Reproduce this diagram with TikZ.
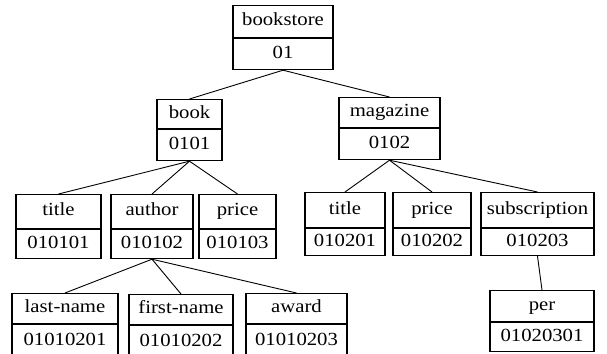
\documentclass[tikz,border=0pt]{standalone}
\usepackage{fontspec}
\setmainfont{Liberation Serif}[FakeStretch=1.12]
\begin{document}
\begin{tikzpicture}[x=1pt,y=-1pt,
  cell/.style={draw, line width=1.1pt, rectangle, inner sep=0pt, anchor=north,
    font=\fontsize{18.5}{20}\selectfont, text height=12pt, text depth=3.5pt},
  link/.style={line width=0.9pt}]
\useasboundingbox (0,0) rectangle (607,353);
\clip (0,0) rectangle (607,353);

% root
\node[cell, minimum width=100, minimum height=32] (bookstore) at (283,5) {bookstore};
\node[cell, minimum width=100, minimum height=31] (bookstore-id) at (bookstore.south) {01};

% second level
\node[cell, minimum width=65, minimum height=29] (book) at (189.5,99) {book};
\node[cell, minimum width=65, minimum height=31] (book-id) at (book.south) {0101};
\node[cell, minimum width=101, minimum height=30] (magazine) at (389.5,97) {magazine};
\node[cell, minimum width=101, minimum height=31] (magazine-id) at (magazine.south) {0102};

% children of book
\node[cell, minimum width=85, minimum height=34] (title1) at (58.5,194) {title};
\node[cell, minimum width=85, minimum height=29] (title1-id) at (title1.south) {010101};
\node[cell, minimum width=82, minimum height=34] (author) at (152,194) {author};
\node[cell, minimum width=82, minimum height=29] (author-id) at (author.south) {010102};
\node[cell, minimum width=77, minimum height=34] (price1) at (237.5,194) {price};
\node[cell, minimum width=77, minimum height=29] (price1-id) at (price1.south) {010103};

% children of magazine
\node[cell, minimum width=80, minimum height=35] (title2) at (345,192) {title};
\node[cell, minimum width=80, minimum height=27] (title2-id) at (title2.south) {010201};
\node[cell, minimum width=78, minimum height=35] (price2) at (432,192) {price};
\node[cell, minimum width=78, minimum height=27] (price2-id) at (price2.south) {010202};
\node[cell, minimum width=113, minimum height=35] (subscription) at (537.5,192) {subscription};
\node[cell, minimum width=113, minimum height=27] (subscription-id) at (subscription.south) {010203};

% children of author (their lower edge runs past the page)
\node[cell, minimum width=106, minimum height=30] (lastname) at (65,293) {last-name};
\node[cell, minimum width=106, minimum height=33] (lastname-id) at (lastname.south) {01010201};
\node[cell, minimum width=104, minimum height=30] (firstname) at (181,294) {first-name};
\node[cell, minimum width=104, minimum height=33] (firstname-id) at (firstname.south) {01010202};
\node[cell, minimum width=101, minimum height=30] (award) at (296.5,293) {award};
\node[cell, minimum width=101, minimum height=33] (award-id) at (award.south) {01010203};

% child of subscription
\node[cell, minimum width=104, minimum height=31] (per) at (542,290) {per};
\node[cell, minimum width=104, minimum height=29] (per-id) at (per.south) {01020301};

% connectors
\draw[link] (bookstore-id.south) -- (book.north);
\draw[link] (bookstore-id.south) -- (magazine.north);
\draw[link] (book-id.south) -- (title1.north);
\draw[link] (book-id.south) -- (author.north);
\draw[link] (book-id.south) -- (price1.north);
\draw[link] (magazine-id.south) -- (title2.north);
\draw[link] (magazine-id.south) -- (price2.north);
\draw[link] (magazine-id.south) -- (subscription.north);
\draw[link] (author-id.south) -- (lastname.north);
\draw[link] (author-id.south) -- (firstname.north);
\draw[link] (author-id.south) -- (award.north);
\draw[link] (subscription-id.south) -- (per.north);
\end{tikzpicture}
\end{document}
